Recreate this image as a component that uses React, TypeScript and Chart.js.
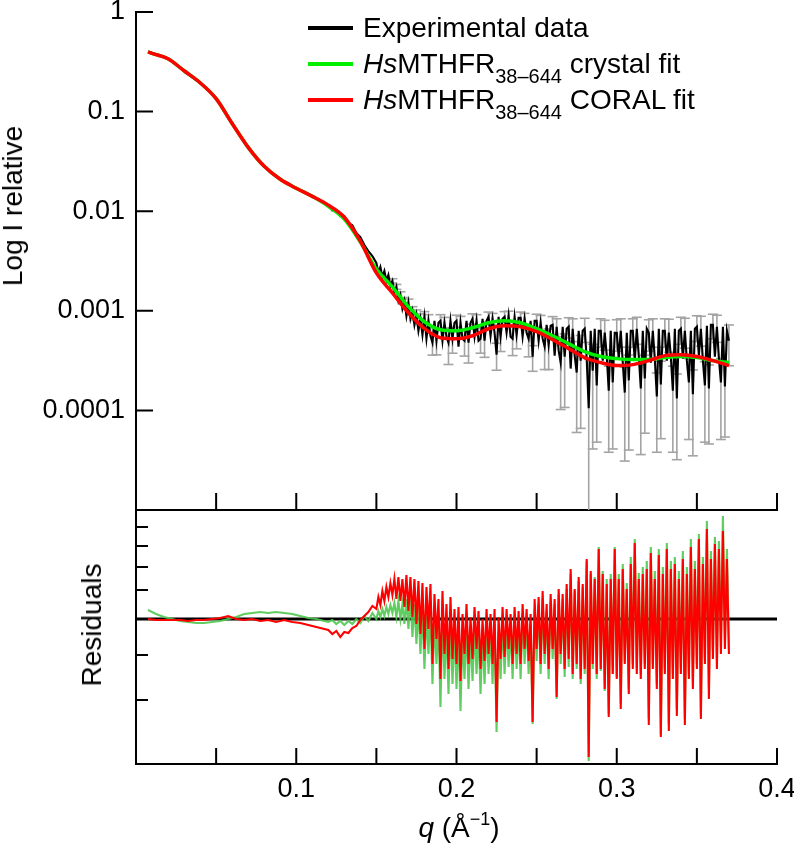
import React, { useEffect, useRef } from "react"
import { Chart, registerables } from "chart.js"

Chart.register(...registerables)

// experimental SAXS curve: q (1/Å)
const expQ = [
  0.0075, 0.0125, 0.0175, 0.0225, 0.0275, 0.0325, 0.0375, 0.0425, 0.0475, 0.0525,
  0.0575, 0.0625, 0.0675, 0.0725, 0.0775, 0.0825, 0.0875, 0.0925, 0.0975, 0.1025,
  0.1075, 0.1125, 0.1175,
  0.12, 0.1225, 0.125, 0.1275, 0.13, 0.1325, 0.135, 0.1375, 0.14, 0.1425, 0.145, 0.1475,
  0.15, 0.15125, 0.1525, 0.15375, 0.155, 0.15625, 0.1575, 0.15875,
  0.16, 0.16125, 0.1625, 0.16375, 0.165, 0.16625, 0.1675, 0.16875,
  0.17, 0.17125, 0.1725, 0.17375, 0.175, 0.17625, 0.1775, 0.17875,
  0.18, 0.18125, 0.1825, 0.18375, 0.185, 0.18625, 0.1875, 0.18875,
  0.19, 0.19125, 0.1925, 0.19375, 0.195, 0.19625, 0.1975, 0.19875,
  0.2, 0.20125, 0.2025, 0.20375, 0.205, 0.20625, 0.2075, 0.20875,
  0.21, 0.21125, 0.2125, 0.21375, 0.215, 0.21625, 0.2175, 0.21875,
  0.22, 0.22125, 0.2225, 0.22375, 0.225, 0.22625, 0.2275, 0.22875,
  0.23, 0.23125, 0.2325, 0.23375, 0.235, 0.23625, 0.2375, 0.23875,
  0.24, 0.24125, 0.2425, 0.24375, 0.245, 0.24625, 0.2475, 0.24875,
  0.25, 0.25125, 0.2525, 0.25375, 0.255, 0.25625, 0.2575, 0.25875,
  0.26, 0.26125, 0.2625, 0.26375, 0.265, 0.26625, 0.2675, 0.26875,
  0.27, 0.27125, 0.2725, 0.27375, 0.275, 0.27625, 0.2775, 0.27875,
  0.28, 0.28125, 0.2825, 0.28375, 0.285, 0.28625, 0.2875, 0.28875,
  0.29, 0.29125, 0.2925, 0.29375, 0.295, 0.29625, 0.2975, 0.29875,
  0.3, 0.30125, 0.3025, 0.30375, 0.305, 0.30625, 0.3075, 0.30875,
  0.31, 0.31125, 0.3125, 0.31375, 0.315, 0.31625, 0.3175, 0.31875,
  0.32, 0.32125, 0.3225, 0.32375, 0.325, 0.32625, 0.3275, 0.32875,
  0.33, 0.33125, 0.3325, 0.33375, 0.335, 0.33625, 0.3375, 0.33875,
  0.34, 0.34125, 0.3425, 0.34375, 0.345, 0.34625, 0.3475, 0.34875,
  0.35, 0.35125, 0.3525, 0.35375, 0.355, 0.35625, 0.3575, 0.35875,
  0.36, 0.36125, 0.3625, 0.36375, 0.365, 0.36625, 0.3675, 0.36875,
  0.37,
]

// relative intensity at expQ
const expI = [
  0.4, 0.378, 0.352, 0.318, 0.274, 0.236, 0.207, 0.18, 0.149, 0.119,
  0.09, 0.066, 0.05, 0.0392, 0.0312, 0.026, 0.0224, 0.0199, 0.0178, 0.0162,
  0.0148, 0.0135, 0.012,
  0.0115, 0.0102, 0.0102, 0.00891, 0.00891, 0.00759, 0.00724, 0.00603, 0.0055, 0.00457, 0.00398, 0.00355,
  3.02e-3, 2.4e-3, 2.75e-3, 2.19e-3, 2.51e-3, 2.0e-3, 2.29e-3, 1.78e-3,
  2.0e-3, 1.51e-3, 1.74e-3, 1.26e-3, 1.45e-3, 1.05e-3, 1.26e-3, 8.9e-4,
  1.2e-3, 8.3e-4, 1.0e-3, 7.2e-4, 9.1e-4, 6.3e-4, 8.3e-4, 5.75e-4,
  8.71e-4, 5.25e-4, 7.94e-4, 5.62e-4, 4.79e-4, 7.94e-4, 5.01e-4, 7.59e-4,
  7.94e-4, 5.01e-4, 7.59e-4, 5.5e-4, 4.79e-4, 7.94e-4, 5.25e-4, 7.59e-4,
  7.94e-4, 4.37e-4, 7.59e-4, 5.25e-4, 5.01e-4, 7.94e-4, 4.79e-4, 7.59e-4,
  8.32e-4, 5.5e-4, 7.94e-4, 5.01e-4, 5.25e-4, 8.32e-4, 5.01e-4, 7.94e-4,
  8.71e-4, 5.62e-4, 8.32e-4, 6.03e-4, 3.63e-4, 8.71e-4, 5.5e-4, 8.32e-4,
  8.71e-4, 6.03e-4, 8.91e-4, 5.5e-4, 5.25e-4, 8.71e-4, 5.75e-4, 8.51e-4,
  8.51e-4, 5.5e-4, 8.32e-4, 6.03e-4, 5.25e-4, 7.94e-4, 3.47e-4, 7.94e-4,
  7.94e-4, 5.01e-4, 7.59e-4, 5.25e-4, 4.37e-4, 7.24e-4, 4.57e-4, 7.08e-4,
  7.24e-4, 3.55e-4, 6.92e-4, 3.98e-4, 3.02e-4, 6.92e-4, 3.47e-4, 6.61e-4,
  6.92e-4, 2.63e-4, 6.61e-4, 3.55e-4, 2.4e-4, 6.31e-4, 3.16e-4, 6.31e-4,
  6.61e-4, 3.31e-4, 1.05e-4, 6.31e-4, 2.51e-4, 6.61e-4, 1.78e-4, 6.31e-4,
  6.31e-4, 3.16e-4, 6.03e-4, 3.55e-4, 1.58e-4, 6.31e-4, 1.91e-4, 6.03e-4,
  6.03e-4, 3.31e-4, 6.31e-4, 3.02e-4, 1.51e-4, 6.03e-4, 2.0e-4, 6.31e-4,
  6.31e-4, 3.16e-4, 6.61e-4, 3.55e-4, 1.66e-4, 6.31e-4, 2.09e-4, 6.61e-4,
  6.03e-4, 3.02e-4, 6.31e-4, 3.31e-4, 1.38e-4, 6.61e-4, 1.82e-4, 6.31e-4,
  6.31e-4, 3.16e-4, 6.03e-4, 3.47e-4, 1.58e-4, 6.61e-4, 1.32e-4, 6.31e-4,
  6.61e-4, 3.31e-4, 6.31e-4, 3.16e-4, 1.91e-4, 6.31e-4, 1.45e-4, 6.61e-4,
  6.92e-4, 3.55e-4, 6.61e-4, 3.16e-4, 1.78e-4, 7.08e-4, 1.66e-4, 7.24e-4,
  7.24e-4, 3.47e-4, 6.92e-4, 3.31e-4, 1.91e-4, 6.92e-4, 1.74e-4, 6.31e-4,
  5.01e-4,
]

// sigma of every second point from q = 0.16 on (0.0025 steps)
const errStartQ = 0.16
const expSigma = [
  1.0e-4, 1.0e-4, 1.0e-4, 1.0e-4,
  1.1e-4, 1.0e-4, 1.1e-4, 1.0e-4,
  1.1e-4, 1.2e-4, 1.2e-4, 1.4e-4,
  1.2e-4, 1.0e-4, 1.9e-4, 1.5e-4,
  1.1e-4, 1.2e-4, 1.5e-4, 1.8e-4,
  1.0e-4, 1.2e-4, 1.5e-4, 1.6e-4,
  1.0e-4, 1.1e-4, 1.1e-4, 1.6e-4,
  1.1e-4, 1.0e-4, 1.7e-4, 1.6e-4,
  1.2e-4, 1.1e-4, 1.8e-4, 1.0e-4,
  1.3e-4, 1.4e-4, 1.8e-4, 2.0e-4,
  1.5e-4, 1.4e-4, 2.0e-4, 2.4e-4,
  1.6e-4, 1.7e-4, 1.8e-4, 2.5e-4,
  1.8e-4, 2.2e-4, 2.1e-4, 1.3e-4,
  2.0e-4, 2.0e-4, 1.2e-4, 1.5e-4,
  2.1e-4, 2.0e-4, 1.2e-4, 1.6e-4,
  2.0e-4, 2.0e-4, 1.3e-4, 1.5e-4,
  2.1e-4, 2.0e-4, 1.0e-4, 1.3e-4,
  2.0e-4, 2.2e-4, 1.2e-4, 1.0e-4,
  2.0e-4, 2.1e-4, 1.4e-4, 1.1e-4,
  2.0e-4, 2.2e-4, 1.3e-4, 1.2e-4,
  2.0e-4, 2.1e-4, 1.4e-4, 1.2e-4,
  2.2e-4,
]

// model curves
const fitQ = [
  0.0075, 0.01, 0.02, 0.03, 0.04, 0.05, 0.06, 0.07, 0.08, 0.09, 0.1, 0.11, 0.12,
  0.13, 0.14, 0.15, 0.16, 0.17, 0.18, 0.19, 0.2, 0.21, 0.22, 0.23, 0.24, 0.25,
  0.26, 0.27, 0.28, 0.29, 0.3, 0.31, 0.32, 0.33, 0.34, 0.35, 0.36, 0.37,
]
const crystalFit = [
  0.398, 0.385, 0.339, 0.257, 0.195, 0.135, 0.0759, 0.0437, 0.0282, 0.0209, 0.017, 0.0141, 0.0112,
  0.00832, 0.0049, 0.00263, 0.00174, 0.0011, 7.76e-4, 6.46e-4, 6.31e-4, 6.76e-4, 7.59e-4, 7.94e-4, 7.59e-4, 6.61e-4,
  5.62e-4, 4.68e-4, 3.89e-4, 3.47e-4, 3.31e-4, 3.24e-4, 3.24e-4, 3.39e-4, 3.47e-4, 3.39e-4, 3.16e-4, 3.02e-4,
]
const coralFit = [
  0.398, 0.385, 0.339, 0.257, 0.195, 0.135, 0.0759, 0.0437, 0.0282, 0.0209, 0.017, 0.0141, 0.0115,
  0.0087, 0.005, 0.0024, 0.00151, 9.55e-4, 6.61e-4, 5.37e-4, 5.25e-4, 5.62e-4, 6.61e-4, 7.08e-4, 6.92e-4, 6.17e-4,
  5.13e-4, 4.17e-4, 3.39e-4, 3.02e-4, 2.82e-4, 2.88e-4, 3.16e-4, 3.55e-4, 3.63e-4, 3.47e-4, 3.16e-4, 2.82e-4,
]

// residuals on the expQ grid
const crystalResid = [
  0.09, 0.05, 0.02, 0, -0.02, -0.03, -0.04, -0.04, -0.03, -0.02,
  0, 0.02, 0.05, 0.06, 0.07, 0.06, 0.07, 0.06, 0.05, 0.03,
  0.01, 0, -0.02,
  -0.03, -0.01, -0.05, -0.02, -0.06, -0.02, -0.05, 0, -0.04, 0.03, -0.02, 0.06,
  0.0, 0.08, 0.02, 0.1, 0.03, 0.12, 0.05, 0.14,
  0.06, 0.16, 0.02, 0.18, 0.0, 0.15, -0.05, 0.2,
  -0.1, 0.22, -0.18, 0.15, -0.25, 0.12, -0.35, 0.1,
  -0.5, 0.08, -0.35, 0.1, -0.65, 0.02, -0.45, 0.0,
  -0.88, 0.05, -0.6, -0.05, -0.75, 0.0, -0.65, -0.08,
  -0.7, -0.1, -0.92, -0.15, -0.6, -0.05, -0.7, -0.15,
  -0.62, -0.08, -0.55, -0.12, -0.75, -0.15, -0.65, -0.05,
  -0.55, -0.12, -0.65, -0.05, -1.13, -0.12, -0.6, 0.0,
  -0.55, -0.02, -0.48, -0.08, -0.6, 0.02, -0.5, -0.05,
  -0.6, 0.05, -0.45, 0.0, -0.55, -0.05, -1.05, 0.1,
  -0.42, 0.15, -0.55, 0.2, -0.45, 0.08, -0.6, 0.18,
  -0.4, 0.15, -0.8, 0.25, -0.45, 0.2, -0.58, 0.3,
  -0.48, 0.45, -0.6, 0.28, -0.5, 0.38, -0.65, 0.32,
  -0.55, 0.58, -1.42, 0.45, -0.5, 0.42, -0.6, 0.72,
  -0.52, 0.48, -0.72, 0.4, -0.95, 0.45, -0.55, 0.72,
  -0.58, 0.45, -0.85, 0.55, -0.42, 0.36, -0.7, 0.62,
  -0.45, 0.8, -0.5, 0.46, -0.55, 0.52, -0.45, 0.58,
  -1.0, 0.72, -0.45, 0.48, -0.65, 0.7, -1.15, 0.52,
  -0.5, 0.76, -1.05, 0.58, -0.55, 0.62, -0.9, 0.48,
  -0.5, 0.68, -1.0, 0.52, -0.55, 0.8, -0.62, 0.58,
  -0.45, 0.85, -0.95, 0.62, -0.4, 0.98, -0.7, 0.68,
  -0.32, 0.82, -0.42, 0.78, -0.28, 1.03, -0.22, 0.7,
  -0.3,
]
const coralResid = [
  0, -0.01, -0.01, -0.01, -0.01, -0.02, -0.01, -0.01, 0, 0.01,
  0.03, 0, -0.01, 0, -0.02, -0.01, -0.03, -0.01, -0.03, -0.04,
  -0.06, -0.08, -0.1,
  -0.11, -0.15, -0.12, -0.18, -0.13, -0.14, -0.09, -0.07, -0.01, 0.03, 0.07, 0.13,
  0.1, 0.22, 0.14, 0.28, 0.18, 0.32, 0.22, 0.36,
  0.24, 0.4, 0.2, 0.42, 0.18, 0.4, 0.12, 0.44,
  0.08, 0.42, 0.02, 0.4, -0.05, 0.38, -0.15, 0.36,
  -0.3, 0.32, -0.1, 0.35, -0.45, 0.25, -0.2, 0.2,
  -0.6, 0.28, -0.35, 0.15, -0.5, 0.22, -0.4, 0.1,
  -0.45, 0.12, -0.62, 0.05, -0.35, 0.15, -0.45, 0.02,
  -0.4, 0.12, -0.3, 0.08, -0.5, 0.0, -0.42, 0.1,
  -0.35, 0.05, -0.45, 0.1, -1.03, 0.02, -0.4, 0.12,
  -0.38, 0.1, -0.3, 0.05, -0.45, 0.12, -0.35, 0.08,
  -0.45, 0.15, -0.3, 0.1, -0.42, 0.05, -1.03, 0.2,
  -0.3, 0.22, -0.45, 0.28, -0.35, 0.15, -0.5, 0.25,
  -0.3, 0.2, -0.78, 0.3, -0.35, 0.25, -0.5, 0.35,
  -0.4, 0.5, -0.55, 0.3, -0.45, 0.42, -0.6, 0.35,
  -0.5, 0.6, -1.38, 0.48, -0.45, 0.4, -0.55, 0.7,
  -0.5, 0.45, -0.7, 0.35, -0.98, 0.4, -0.55, 0.7,
  -0.6, 0.4, -0.9, 0.5, -0.45, 0.3, -0.75, 0.55,
  -0.5, 0.76, -0.55, 0.4, -0.6, 0.45, -0.5, 0.5,
  -1.06, 0.66, -0.5, 0.4, -0.7, 0.64, -1.18, 0.45,
  -0.55, 0.7, -1.12, 0.5, -0.6, 0.55, -0.97, 0.4,
  -0.55, 0.6, -1.06, 0.45, -0.6, 0.72, -0.7, 0.5,
  -0.5, 0.8, -1.0, 0.55, -0.45, 0.9, -0.8, 0.6,
  -0.4, 0.75, -0.5, 0.7, -0.35, 0.88, -0.3, 0.6,
  -0.35,
]

const qTicks = [0.05, 0.1, 0.15, 0.2, 0.25, 0.3, 0.35, 0.4]
const qLabels = [0.1, 0.2, 0.3, 0.4]
const logTicks = [0.0001, 0.001, 0.01, 0.1, 1]
const residTicks = [0.92, 0.73, 0.52, 0.29, -0.36, -0.81]

const FONT = '"Liberation Sans", Arial, Helvetica, sans-serif'
const GREEN = "#00ee00"
const RED = "#ff0000"

// tick marks drawn on the inside of the axes
const innerTicks = {
  id: "innerTicks",
  afterDatasetsDraw(chart: any, _args: any, opts: { x: number; y: number }) {
    const { ctx, chartArea } = chart
    const xs = chart.scales.x
    const ys = chart.scales.y
    ctx.save()
    ctx.strokeStyle = "#000"
    ctx.lineWidth = 2
    ctx.beginPath()
    xs.ticks.forEach((t: any) => {
      const p = xs.getPixelForValue(t.value)
      ctx.moveTo(p, chartArea.bottom)
      ctx.lineTo(p, chartArea.bottom - opts.x)
    })
    ys.ticks.forEach((t: any) => {
      const p = ys.getPixelForValue(t.value)
      ctx.moveTo(chartArea.left, p)
      ctx.lineTo(chartArea.left + opts.y, p)
    })
    ctx.stroke()
    ctx.restore()
  },
}

const fixAxis = (w?: number, h?: number) => (scale: any) => {
  if (w !== undefined) scale.width = w
  if (h !== undefined) scale.height = h
  scale.paddingLeft = 0
  scale.paddingRight = 0
  scale.paddingTop = 0
  scale.paddingBottom = 0
}

const pts = (xs: number[], ys: number[]) => xs.map((x, i) => ({ x, y: ys[i] }))

const axisBorder = { display: true, color: "#000", width: 2 }
const noGrid = { display: false, drawTicks: false }

const App: React.FC = () => {
  const topRef = useRef<HTMLCanvasElement | null>(null)
  const botRef = useRef<HTMLCanvasElement | null>(null)

  useEffect(() => {
    if (!topRef.current || !botRef.current) return

    const errStart = expQ.indexOf(errStartQ)
    const errBars: { x: number; y: number | null }[] = []
    expSigma.forEach((s, k) => {
      const i = errStart + 2 * k
      errBars.push(
        { x: expQ[i], y: Math.max(expI[i] - s, 1e-7) },
        { x: expQ[i], y: expI[i] + s },
        { x: expQ[i], y: null }
      )
    })

    // lower "order" is drawn on top
    const top = new Chart(topRef.current, {
      type: "line",
      data: {
        datasets: [
          {
            data: errBars,
            order: 3,
            borderColor: "#a4a4a4",
            borderWidth: 1.6,
            pointStyle: "line",
            pointRadius: 5,
            pointBorderColor: "#a4a4a4",
            pointBorderWidth: 1.6,
            spanGaps: false,
          },
          { data: pts(expQ, expI), order: 2, borderColor: "#000", borderWidth: 2.1, pointRadius: 0 },
          {
            data: pts(fitQ, crystalFit),
            order: 1,
            borderColor: GREEN,
            borderWidth: 3.5,
            pointRadius: 0,
            cubicInterpolationMode: "monotone",
          },
          {
            data: pts(fitQ, coralFit),
            order: 0,
            borderColor: RED,
            borderWidth: 3.5,
            pointRadius: 0,
            cubicInterpolationMode: "monotone",
          },
        ],
      },
      options: {
        animation: false,
        responsive: true,
        maintainAspectRatio: false,
        events: [],
        layout: { padding: { top: 12, right: 17, left: 0, bottom: 0 } },
        plugins: {
          legend: { display: false },
          tooltip: { enabled: false },
          innerTicks: { x: 17, y: 17 },
        } as any,
        scales: {
          x: {
            type: "linear",
            min: 0,
            max: 0.4,
            afterBuildTicks: (s: any) => {
              s.ticks = qTicks.map((value) => ({ value }))
            },
            afterFit: fixAxis(undefined, 10),
            ticks: { display: false },
            grid: noGrid,
            border: axisBorder,
          },
          y: {
            type: "logarithmic",
            min: 1e-5,
            max: 1,
            afterBuildTicks: (s: any) => {
              s.ticks = logTicks.map((value) => ({ value }))
            },
            afterFit: fixAxis(136),
            ticks: {
              callback: (v: any) => String(v),
              font: { family: FONT, size: 27 },
              color: "#000",
              padding: 11,
              autoSkip: false,
            },
            grid: noGrid,
            border: axisBorder,
          },
        },
      },
      plugins: [innerTicks],
    })

    const bottom = new Chart(botRef.current, {
      type: "line",
      data: {
        datasets: [
          {
            data: [
              { x: 0, y: 0 },
              { x: 0.4, y: 0 },
            ],
            order: 2,
            borderColor: "#000",
            borderWidth: 3,
            pointRadius: 0,
          },
          {
            data: pts(expQ, crystalResid),
            order: 1,
            borderColor: "rgba(80, 200, 80, 0.9)",
            borderWidth: 2.1,
            pointRadius: 0,
          },
          {
            data: pts(expQ, coralResid),
            order: 0,
            borderColor: RED,
            borderWidth: 2.1,
            pointRadius: 0,
          },
        ],
      },
      options: {
        animation: false,
        responsive: true,
        maintainAspectRatio: false,
        events: [],
        layout: { padding: { top: 11, right: 17, left: 0, bottom: 0 } },
        plugins: {
          legend: { display: false },
          tooltip: { enabled: false },
          innerTicks: { x: 16, y: 12 },
        } as any,
        scales: {
          x: {
            type: "linear",
            min: 0,
            max: 0.4,
            afterBuildTicks: (s: any) => {
              s.ticks = qTicks.map((value) => ({ value }))
            },
            afterFit: fixAxis(undefined, 83),
            ticks: {
              callback: (v: any) => (qLabels.includes(v) ? String(v) : ""),
              font: { family: FONT, size: 27 },
              color: "#000",
              padding: 9,
              maxRotation: 0,
              autoSkip: false,
            },
            grid: noGrid,
            border: axisBorder,
          },
          y: {
            type: "linear",
            min: -1.45,
            max: 1.08,
            afterBuildTicks: (s: any) => {
              s.ticks = residTicks.map((value) => ({ value }))
            },
            afterFit: fixAxis(136),
            ticks: { display: false },
            grid: noGrid,
            border: axisBorder,
          },
        },
      },
      plugins: [innerTicks],
    })

    return () => {
      top.destroy()
      bottom.destroy()
    }
  }, [])

  const sub = (t: string) => (
    <span style={{ fontSize: 20, position: "relative", top: 10 }}>{t}</span>
  )

  const legendRows = [
    { color: "#000", y: 28, label: <>Experimental data</> },
    { color: GREEN, y: 64, label: <><i>Hs</i>MTHFR{sub("38–644")} crystal fit</> },
    { color: RED, y: 100, label: <><i>Hs</i>MTHFR{sub("38–644")} CORAL fit</> },
  ]

  const rotated = (x: number, y: number): React.CSSProperties => ({
    position: "absolute",
    left: x,
    top: y,
    transform: "translate(-50%, -50%) rotate(-90deg)",
    fontSize: 28,
    lineHeight: "28px",
    whiteSpace: "nowrap",
  })

  return (
    <div
      style={{
        position: "absolute",
        left: 0,
        top: 0,
        width: 794,
        height: 847,
        fontFamily: FONT,
        color: "#000",
        background: "#fff",
      }}
    >
      <div style={{ position: "absolute", left: 0, top: 0, width: 794, height: 520 }}>
        <canvas ref={topRef} />
      </div>
      <div style={{ position: "absolute", left: 0, top: 500, width: 794, height: 347 }}>
        <canvas ref={botRef} />
      </div>

      <div style={rotated(13, 206)}>Log I relative</div>
      <div style={rotated(92, 625)}>Residuals</div>

      {legendRows.map((r, i) => (
        <React.Fragment key={i}>
          <div
            style={{
              position: "absolute",
              left: 308,
              top: r.y - 2,
              width: 45,
              height: 4,
              background: r.color,
            }}
          />
          <div
            style={{
              position: "absolute",
              left: 363,
              top: r.y - 14,
              fontSize: 28,
              lineHeight: "28px",
              whiteSpace: "nowrap",
            }}
          >
            {r.label}
          </div>
        </React.Fragment>
      ))}

      <div
        style={{
          position: "absolute",
          left: 459,
          top: 814,
          transform: "translateX(-50%)",
          fontSize: 28,
          lineHeight: "28px",
          whiteSpace: "nowrap",
        }}
      >
        <i>q</i> (Å<span style={{ fontSize: 18, position: "relative", top: -12 }}>−1</span>)
      </div>
    </div>
  )
}

export default App
